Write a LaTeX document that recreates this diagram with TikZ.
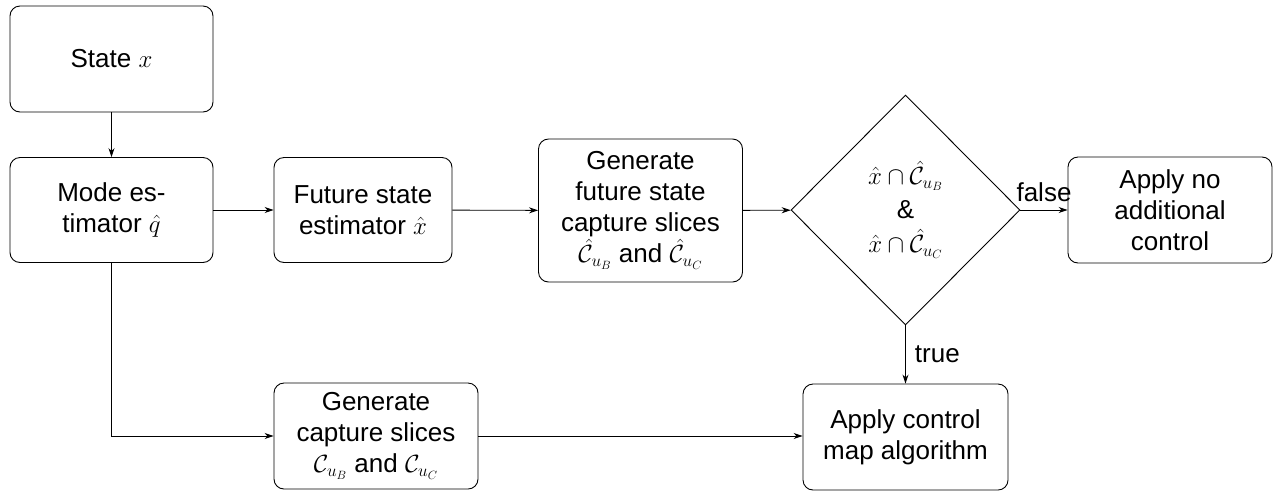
\documentclass[tikz,border=0pt]{standalone}
\usepackage{fontspec}
\setmainfont{Liberation Sans}
\usetikzlibrary{arrows.meta,shapes.geometric}
\begin{document}
\begin{tikzpicture}[x=1pt,y=-1pt,
  box/.style={draw,line width=0.9pt,rounded corners=10pt,align=center,inner sep=0pt,
    font=\fontsize{26}{31}\selectfont},
  dec/.style={draw,line width=0.9pt,diamond,inner sep=0pt,minimum width=229pt,minimum height=230pt,
    align=center,font=\fontsize{26}{34}\selectfont},
  conn/.style={line width=0.9pt,-{Stealth[length=9pt,width=6pt]}},
  lbl/.style={font=\fontsize{26}{30}\selectfont,inner sep=0pt}]
\useasboundingbox (0,0) rectangle (1281,491);
\node[box,minimum width=203pt,minimum height=106pt] (state) at (111.5,59) {State $x$};
\node[box,minimum width=203pt,minimum height=105pt] (mode) at (111.5,210) {Mode es-\\timator $\hat{q}$};
\node[box,minimum width=178pt,minimum height=105pt] (fut) at (363,210) {Future state\\estimator $\hat{x}$};
\node[box,minimum width=204pt,minimum height=143pt] (gen) at (640.5,210.5) {Generate\\future state\\capture slices\\$\hat{\mathcal{C}}_{u_B}$ and $\hat{\mathcal{C}}_{u_C}$};
\node[dec] (dia) at (905.5,210) {$\hat{x}\cap\hat{\mathcal{C}}_{u_B}$\\\&\\$\hat{x}\cap\hat{\mathcal{C}}_{u_C}$};
\node[box,minimum width=204pt,minimum height=106pt] (none) at (1170,210) {Apply no\\additional\\control};
\node[box,minimum width=204pt,minimum height=106pt] (cap) at (376,436) {Generate\\capture slices\\$\mathcal{C}_{u_B}$ and $\mathcal{C}_{u_C}$};
\node[box,minimum width=205pt,minimum height=106pt] (ctrl) at (905.5,437) {Apply control\\map algorithm};
\coordinate (bend) at (mode.south |- cap.west);
\draw[conn] (state) -- (mode);
\draw[conn] (mode) -- (fut);
\draw[conn] (fut) -- (gen);
\draw[conn] (gen) -- (dia);
\draw[conn] (dia) -- node[lbl,above=8pt,pos=0.5] (f) {false} (none);
\draw[conn] (dia) -- node[lbl,right=9pt,pos=0.5] (t) {true} (ctrl);
\draw[conn] (mode.south) -- (bend) -- (cap.west);
\draw[conn] (cap) -- (ctrl.west |- cap.east);
\end{tikzpicture}
\end{document}
